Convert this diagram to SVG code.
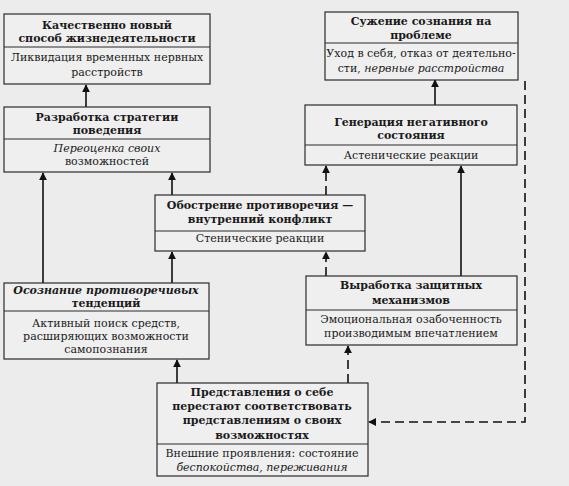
<svg xmlns="http://www.w3.org/2000/svg" width="569" height="486" viewBox="0 0 569 486">
<defs>
<style>
.bg{fill:#ececec}
.box{fill:#efefef;stroke:#2a2a2a;stroke-width:1.2}
.div{stroke:#2a2a2a;stroke-width:1}
text{font-family:"DejaVu Serif","Liberation Serif",serif;font-size:11px;fill:#1a1a1a;text-anchor:middle}
.t{font-weight:bold}
.i{font-style:italic}
.c{fill:none;stroke:#111;stroke-width:1.6}
.d{stroke-dasharray:9 5}
</style>
<marker id="ah" viewBox="0 0 10 10" refX="9" refY="5" markerWidth="8" markerHeight="8" markerUnits="userSpaceOnUse" orient="auto">
<path d="M0,0 L10,5 L0,10 z" fill="#111"/>
</marker>
</defs>
<rect class="bg" x="0" y="0" width="569" height="486"/>

<g id="connectors">
<line class="c" x1="86" y1="107" x2="86" y2="85" marker-end="url(#ah)"/>
<line class="c" x1="43" y1="283" x2="43" y2="173" marker-end="url(#ah)"/>
<line class="c" x1="172" y1="195" x2="172" y2="173" marker-end="url(#ah)"/>
<line class="c" x1="172" y1="283" x2="172" y2="252" marker-end="url(#ah)"/>
<line class="c" x1="177" y1="383" x2="177" y2="360" marker-end="url(#ah)"/>
<line class="c d" x1="348" y1="383" x2="348" y2="346" marker-end="url(#ah)"/>
<line class="c d" x1="326" y1="195" x2="326" y2="166" marker-end="url(#ah)"/>
<line class="c d" x1="326" y1="276" x2="326" y2="252" marker-end="url(#ah)"/>
<line class="c" x1="461" y1="276" x2="461" y2="166" marker-end="url(#ah)"/>
<line class="c" x1="435" y1="105" x2="435" y2="80" marker-end="url(#ah)"/>
<polyline class="c d" points="525,81 525,422 369,422" marker-end="url(#ah)"/>
</g>

<g id="n1">
<rect class="box" x="4" y="14" width="206" height="70"/>
<line class="div" x1="4" y1="47" x2="210" y2="47"/>
<text class="t" x="107" y="29">Качественно новый</text>
<text class="t" x="107" y="42">способ жизнедеятельности</text>
<text x="107" y="61">Ликвидация временных нервных</text>
<text x="107" y="76">расстройств</text>
</g>

<g id="n2">
<rect class="box" x="4" y="107" width="206" height="65"/>
<line class="div" x1="4" y1="139" x2="210" y2="139"/>
<text class="t" x="107" y="121">Разработка стратегии</text>
<text class="t" x="107" y="134">поведения</text>
<text class="i" x="107" y="152">Переоценка своих</text>
<text x="107" y="165">возможностей</text>
</g>

<g id="n3">
<rect class="box" x="155" y="195" width="210" height="56"/>
<line class="div" x1="155" y1="231" x2="365" y2="231"/>
<text class="t" x="260" y="209">Обострение противоречия —</text>
<text class="t" x="260" y="223">внутренний конфликт</text>
<text x="260" y="242">Стенические реакции</text>
</g>

<g id="n4">
<rect class="box" x="4" y="283" width="205" height="76"/>
<line class="div" x1="4" y1="311" x2="209" y2="311"/>
<text class="t i" x="106" y="294">Осознание противоречивых</text>
<text class="t" x="106" y="307">тенденций</text>
<text x="106" y="327">Активный поиск средств,</text>
<text x="106" y="340">расширяющих возможности</text>
<text x="106" y="353">самопознания</text>
</g>

<g id="n5">
<rect class="box" x="306" y="276" width="211" height="69"/>
<line class="div" x1="306" y1="310" x2="517" y2="310"/>
<text class="t" x="411" y="289">Выработка защитных</text>
<text class="t" x="411" y="304">механизмов</text>
<text x="411" y="323">Эмоциональная озабоченность</text>
<text x="411" y="337">производимым впечатлением</text>
</g>

<g id="n6">
<rect class="box" x="157" y="383" width="211" height="93"/>
<line class="div" x1="157" y1="444" x2="368" y2="444"/>
<text class="t" x="262" y="396">Представления о себе</text>
<text class="t" x="262" y="410">перестают соответствовать</text>
<text class="t" x="262" y="424">представлениям о своих</text>
<text class="t" x="262" y="439">возможностях</text>
<text x="262" y="457">Внешние проявления: состояние</text>
<text class="i" x="262" y="471">беспокойства, переживания</text>
</g>

<g id="n7">
<rect class="box" x="305" y="105" width="212" height="60"/>
<line class="div" x1="305" y1="145" x2="517" y2="145"/>
<text class="t" x="411" y="126">Генерация негативного</text>
<text class="t" x="411" y="139">состояния</text>
<text x="411" y="159">Астенические реакции</text>
</g>

<g id="n8">
<rect class="box" x="325" y="12" width="193" height="68"/>
<line class="div" x1="325" y1="43" x2="518" y2="43"/>
<text class="t" x="421" y="25">Сужение сознания на</text>
<text class="t" x="421" y="39">проблеме</text>
<text x="421" y="57">Уход в себя, отказ от деятельно-</text>
<text x="421" y="72">сти, <tspan class="i">нервные расстройства</tspan></text>
</g>
</svg>
